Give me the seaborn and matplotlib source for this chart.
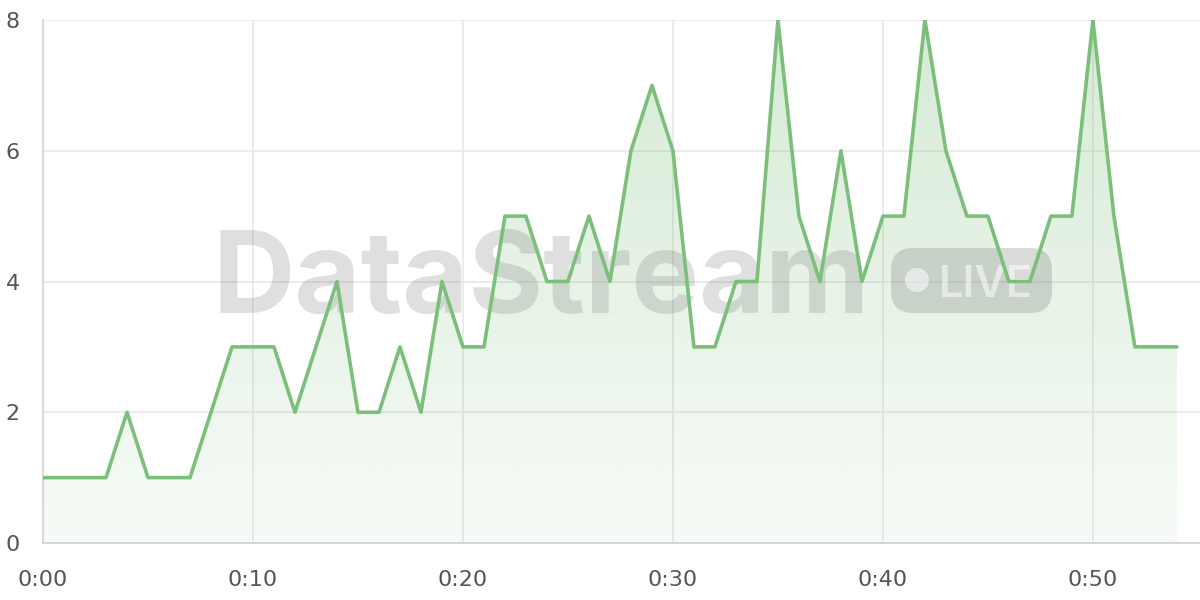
import numpy as np
import pandas as pd
import matplotlib
matplotlib.use("Agg")
import matplotlib.pyplot as plt
import matplotlib.transforms as mtransforms
import seaborn as sns
from matplotlib.patches import FancyBboxPatch, Circle

minutes = list(range(55))
values = [1, 1, 1, 1, 2, 1, 1, 1, 2, 3,
          3, 3, 2, 3, 4, 2, 2, 3, 2, 4,
          3, 3, 5, 5, 4, 4, 5, 4, 6, 7,
          6, 3, 3, 4, 4, 8, 5, 4, 6, 4,
          5, 5, 8, 6, 5, 5, 4, 4, 5, 5,
          8, 5, 3, 3, 3]
x_ticks = [0, 10, 20, 30, 40, 50]
x_labels = ["0:00", "0:10", "0:20", "0:30", "0:40", "0:50"]
y_ticks = [0, 2, 4, 6, 8]
watermark = "DataStream"
badge_text = "LIVE"

df = pd.DataFrame({"minute": minutes, "value": values})

sns.set_theme(style="white")
plt.rcParams['font.family'] = ['DejaVu Sans']

W, H = 1200, 600
fig = plt.figure(figsize=(12, 6), dpi=100)
ax = fig.add_axes([43 / W, 57 / H, 1 - 43 / W, (543 - 20) / H])
PX = mtransforms.Affine2D().scale(1 / W, 1 / H) + fig.transFigure  # pixel coords, origin bottom-left

LINE = "#7cbf7b"
GRID = "#e6e6e6"

ax.set_xlim(0, 55.1)
ax.set_ylim(0, 8)

# gradient fill under the line
poly = ax.fill_between(df["minute"], df["value"], 0, color="none", lw=0, zorder=2)
grad = np.linspace(0, 1, 256)
rgba = np.zeros((256, 1, 4))
rgba[:, 0, 0] = 0x7c / 255
rgba[:, 0, 1] = 0xbf / 255
rgba[:, 0, 2] = 0x7b / 255
rgba[:, 0, 3] = 0.06 + 0.26 * grad
im = ax.imshow(rgba, extent=[0, 54, 0, 8], origin="lower", aspect="auto", zorder=2,
               interpolation="bilinear")
im.set_clip_path(poly.get_paths()[0], transform=ax.transData)

sns.lineplot(data=df, x="minute", y="value", ax=ax, color=LINE, lw=2.6, zorder=6)

ax.set_xlim(0, 55.1)
ax.set_ylim(0, 8)
ax.set_xticks(x_ticks)
ax.set_xticklabels(x_labels)
ax.set_yticks(y_ticks)
ax.set_yticklabels([str(v) for v in y_ticks])
ax.set_xlabel("")
ax.set_ylabel("")
ax.grid(True, color=GRID, lw=1.1, zorder=0)
ax.set_axisbelow(True)
ax.tick_params(axis="both", length=10.8, width=1.1, color=GRID, labelcolor="#555555",
               labelsize=16)
ax.tick_params(axis="x", pad=9)
ax.tick_params(axis="y", pad=6)
for s in ["top", "right"]:
    ax.spines[s].set_visible(False)
ax.spines["left"].set_color("#d4d4d4")
ax.spines["left"].set_linewidth(1.2)
ax.spines["bottom"].set_color("#cfcfcf")
ax.spines["bottom"].set_linewidth(1.2)

# watermark (pixel coordinates)
WM = "#7a7a7a"
wm = ax.text(212, H - 313, watermark, fontsize=80, fontweight="bold",
             family=["Inter", "DejaVu Sans"], color=WM, alpha=0.24,
             ha="left", va="baseline", transform=PX, zorder=4, clip_on=False)
badge = FancyBboxPatch((891, H - 313), 161, 65,
                       boxstyle="round,pad=0,rounding_size=22", transform=PX,
                       facecolor=WM, edgecolor="none", alpha=0.27, zorder=4, clip_on=False)
ax.add_patch(badge)
dot = Circle((917, H - 280), 12, transform=PX, facecolor="white", edgecolor="none",
             alpha=0.55, zorder=5, clip_on=False)
ax.add_patch(dot)
live = ax.text(939, H - 297, badge_text, fontsize=30, fontweight="semibold",
               family=["Inter", "DejaVu Sans"],
               color="white", alpha=0.55, ha="left", va="baseline", transform=PX,
               zorder=5, clip_on=False)

# fit watermark texts to their widths
fig.canvas.draw()
r = fig.canvas.get_renderer()
for t, target in [(wm, 870 - 212), (live, 1033 - 939)]:
    w = t.get_window_extent(r).width
    t.set_fontsize(t.get_fontsize() * target / w)

fig.savefig("out.png", dpi=100)
